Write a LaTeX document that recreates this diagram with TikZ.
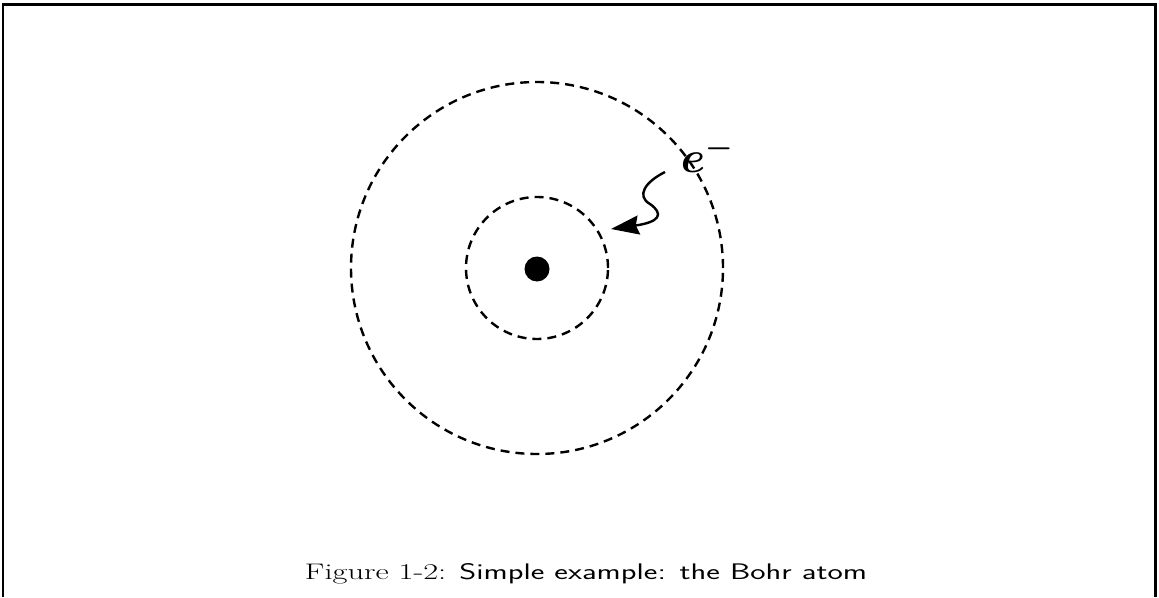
\RequirePackage{fix-cm}
\documentclass[tikz,border=0pt]{standalone}
\usetikzlibrary{arrows.meta}
\begin{document}
\begin{tikzpicture}[x=1pt,y=-1pt,
  orbit/.style={circle,draw,line width=2.4pt,dash pattern=on 9pt off 6pt,inner sep=0pt},
  frame/.style={line width=2.5pt},
  squiggle/.style={line width=2.4pt,-{Stealth[length=28pt,width=19pt,inset=3pt]}}]
\useasboundingbox (0,0) rectangle (1159,597);
\draw[frame] (3,597) -- (3,4.5) -- (1155.5,4.5) -- (1155.5,597);
\node[orbit,minimum size=372pt] (outer) at (537,268) {};
\node[orbit,minimum size=142pt] (inner) at (537,268) {};
\node[circle,fill,inner sep=0pt,minimum size=25pt] (nucleus) at (537,269) {};
\node[font=\fontsize{44}{52}\selectfont\boldmath] (elabel) at (707,155) {$e^{-}$};
\coordinate (s) at (665,172);
\coordinate (t) at (611,229);
\draw[squiggle] (s) .. controls (645,182) and (636,196) .. (650,204)
  .. controls (664,214) and (660,222) .. (t);
\node[inner sep=0pt,anchor=base] (cap) at (586,579) {\resizebox{562pt}{16pt}{\fontsize{20}{24}\selectfont Figure 1-2: {\sffamily Simple example: the Bohr atom}}};
\end{tikzpicture}
\end{document}
